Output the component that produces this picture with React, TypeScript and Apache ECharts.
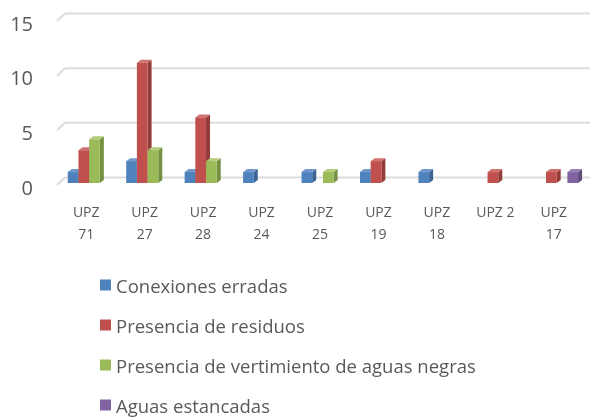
import React, { useEffect, useRef } from "react";
import * as echarts from "echarts";

const categories = ["UPZ 71", "UPZ 27", "UPZ 28", "UPZ 24", "UPZ 25", "UPZ 19", "UPZ 18", "UPZ 2", "UPZ 17"];
const seriesNames = [
  "Conexiones erradas",
  "Presencia de residuos",
  "Presencia de vertimiento de aguas negras",
  "Aguas estancadas",
];
const conexionesErradas = [1, 2, 1, 1, 1, 1, 1, null, null];
const presenciaResiduos = [3, 11, 6, null, null, 2, null, 1, 1];
const vertimientoAguasNegras = [4, 3, 2, null, 1, null, null, null, null];
const aguasEstancadas = [null, null, null, null, null, null, null, null, 1];
const yTicks = [0, 5, 10, 15];

const faces = [
  { front: "#4F81BD", side: "#3A6294", top: "#7098CC" },
  { front: "#C0504D", side: "#933C3A", top: "#D0726F" },
  { front: "#9BBB59", side: "#769042", top: "#B3CD7C" },
  { front: "#8064A2", side: "#604B7C", top: "#9A82B8" },
];

const allValues = [conexionesErradas, presenciaResiduos, vertimientoAguasNegras, aguasEstancadas];

export default function App() {
  const ref = useRef<HTMLDivElement>(null);
  useEffect(() => {
    if (!ref.current) return;
    const chart = echarts.init(ref.current, null, { renderer: "svg" });
    const FONT = "'Open Sans', sans-serif";

    const barSeries = allValues.map((vals, si) => ({
      type: "custom",
      name: seriesNames[si],
      z: 3,
      itemStyle: { color: faces[si].front },
      data: vals
        .map((v, i) => (v == null ? null : [i, v]))
        .filter((d) => d !== null),
      renderItem: (params: any, api: any) => {
        const cat = api.value(0);
        const v = api.value(1);
        const base = api.coord([cat, 0]);
        const topP = api.coord([cat, v]);
        const band = api.size([1, 0])[0];
        const w = band * 0.183;
        const x = base[0] + band * 0.05 + (si - 2) * w;
        const yb = base[1] - 4;
        const yt = topP[1] - 4;
        const dx = 4;
        const dy = 3;
        const f = faces[si];
        return {
          type: "group",
          children: [
            {
              type: "polygon",
              shape: { points: [[x + w, yb], [x + w + dx, yb - dy], [x + w + dx, yt - dy], [x + w, yt]] },
              style: { fill: f.side },
            },
            {
              type: "polygon",
              shape: { points: [[x, yt], [x + dx, yt - dy], [x + w + dx, yt - dy], [x + w, yt]] },
              style: { fill: f.top },
            },
            {
              type: "rect",
              shape: { x, y: yt, width: w, height: yb - yt },
              style: { fill: f.front },
            },
          ],
        };
      },
    }));

    const gridSeries = {
      type: "custom",
      name: "grid",
      z: 1,
      silent: true,
      itemStyle: { color: "#D9D9D9" },
      data: yTicks.map((t) => [0, t]),
      renderItem: (params: any, api: any) => {
        const y = api.coord([0, api.value(1)])[1];
        const cs = params.coordSys;
        const x0 = cs.x;
        const style = { stroke: "#DCDCDC", lineWidth: 2, fill: "none" };
        return {
          type: "group",
          children: [
            { type: "line", shape: { x1: x0, y1: y - 2, x2: x0 + 8, y2: y - 9.5 }, style },
            { type: "line", shape: { x1: x0 + 8, y1: y - 9.5, x2: x0 + cs.width + 8, y2: y - 9.5 }, style },
          ],
        };
      },
    };

    chart.setOption({
      animation: false,
      textStyle: { fontFamily: FONT },
      color: faces.map((f) => f.front),
      grid: { left: 57, right: 7, top: 23, bottom: 230 },
      legend: {
        data: seriesNames,
        orient: "vertical",
        left: 100,
        top: 274,
        padding: 0,
        height: 150,
        icon: "rect",
        itemWidth: 11,
        itemHeight: 11,
        itemGap: 18,
        textStyle: { fontSize: 18.5, lineHeight: 22, color: "#595959", fontFamily: FONT },
      },
      xAxis: {
        type: "category",
        data: categories,
        axisLine: { show: false },
        axisTick: { show: false },
        axisLabel: {
          interval: 0,
          margin: 13,
          fontSize: 14,
          lineHeight: 22,
          color: "#595959",
          fontFamily: FONT,
          formatter: (v: string) => (v.length > 5 ? v.replace(" ", "\n") : v),
        },
      },
      yAxis: {
        type: "value",
        min: 0,
        max: 15,
        interval: 5,
        axisLine: { show: false },
        axisTick: { show: false },
        splitLine: { show: false },
        axisLabel: { fontSize: 20, color: "#595959", margin: 24, fontFamily: FONT },
      },
      series: [gridSeries, ...barSeries],
    });
    return () => chart.dispose();
  }, []);
  return <div ref={ref} style={{ position: "fixed", left: 0, top: 0, width: 590, height: 417 }} />;
}
